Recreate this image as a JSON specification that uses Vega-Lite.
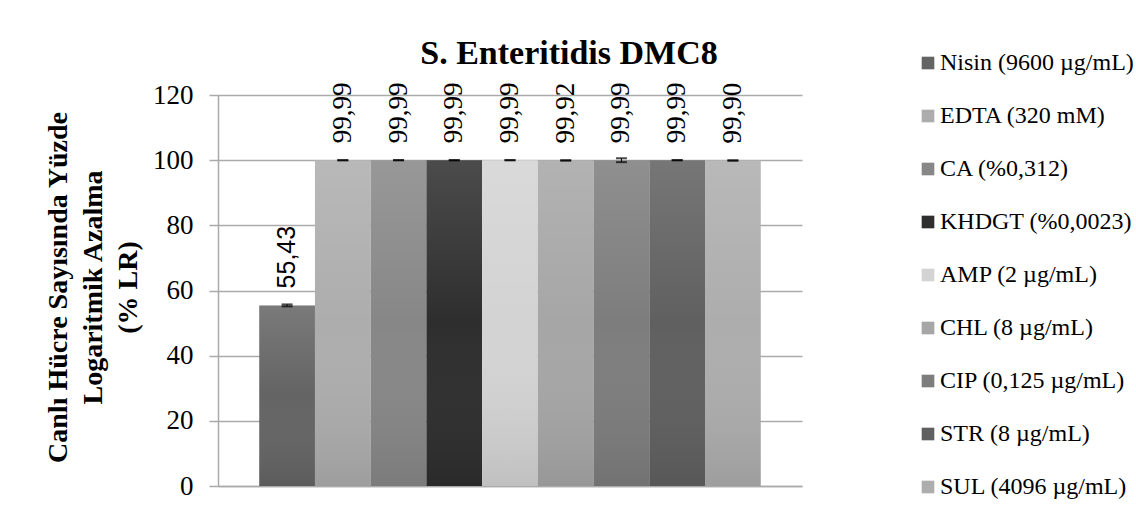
{
  "$schema": "https://vega.github.io/schema/vega-lite/v6.json",
  "autosize": "none",
  "padding": {"left": 218, "top": 95, "right": 334, "bottom": 29},
  "width": 584,
  "height": 391,
  "background": "white",
  "title": {
    "text": "S. Enteritidis DMC8",
    "font": "Liberation Serif",
    "fontSize": 34,
    "fontWeight": "bold",
    "color": "black",
    "anchor": "middle",
    "frame": "group",
    "dx": 59,
    "offset": -20
  },
  "data": {
    "values": [
      {"drug": "Nisin (9600 µg/mL)", "value": 55.43, "err": 0.3},
      {"drug": "EDTA (320 mM)", "value": 99.99, "err": 0.01},
      {"drug": "CA (%0,312)", "value": 99.99, "err": 0.01},
      {"drug": "KHDGT (%0,0023)", "value": 99.99, "err": 0.01},
      {"drug": "AMP (2 µg/mL)", "value": 99.99, "err": 0.01},
      {"drug": "CHL (8 µg/mL)", "value": 99.92, "err": 0.05},
      {"drug": "CIP (0,125 µg/mL)", "value": 99.99, "err": 0.6},
      {"drug": "STR (8 µg/mL)", "value": 99.99, "err": 0.01},
      {"drug": "SUL (4096 µg/mL)", "value": 99.9, "err": 0.05}
    ]
  },
  "encoding": {
    "x": {
      "field": "drug",
      "type": "nominal",
      "sort": null,
      "scale": {"paddingInner": 0, "paddingOuter": 0.74},
      "axis": {"labels": false, "ticks": false, "title": null, "domainColor": "#aaaaaa", "domainWidth": 1.5}
    },
    "y": {
      "field": "value",
      "type": "quantitative",
      "scale": {"domain": [0, 120], "nice": false},
      "axis": {
        "values": [0, 20, 40, 60, 80, 100, 120],
        "title": ["Canlı Hücre Sayısında Yüzde", "Logaritmik Azalma", "(% LR)"],
        "titleFont": "Liberation Serif",
        "titleFontSize": 28,
        "titleFontWeight": "bold",
        "titleColor": "black",
        "titleLineHeight": 35,
        "titleAngle": -90,
        "titleAlign": "center",
        "titleBaseline": "middle",
        "titleX": -160,
        "titleY": 192,
        "labelFont": "Liberation Serif",
        "labelFontSize": 27,
        "labelColor": "black",
        "labelPadding": 16,
        "tickSize": 9,
        "tickColor": "#aaaaaa",
        "tickWidth": 1.5,
        "domainColor": "#aaaaaa",
        "domainWidth": 1.5,
        "gridColor": "#aaaaaa",
        "gridWidth": 1.5
      }
    }
  },
  "layer": [
    {
      "mark": {"type": "bar"},
      "encoding": {
        "color": {
          "field": "drug",
          "type": "nominal",
          "scale": {
            "domain": ["Nisin (9600 µg/mL)", "EDTA (320 mM)", "CA (%0,312)", "KHDGT (%0,0023)", "AMP (2 µg/mL)", "CHL (8 µg/mL)", "CIP (0,125 µg/mL)", "STR (8 µg/mL)", "SUL (4096 µg/mL)"],
            "range": ["#646464", "#adadad", "#878787", "#2e2e2e", "#d3d3d3", "#a6a6a6", "#7d7d7d", "#606060", "#adadad"]
          },
          "legend": {
            "title": null,
            "orient": "none",
            "legendX": 698,
            "legendY": -44,
            "symbolType": "square",
            "symbolSize": 160,
            "symbolStrokeWidth": 0,
            "labelFont": "Liberation Serif",
            "labelFontSize": 24,
            "labelColor": "black",
            "labelOffset": 0,
            "labelLimit": 400,
            "rowPadding": 29,
            "padding": 0
          }
        }
      }
    },
    {
      "mark": {
        "type": "bar",
        "color": {
          "gradient": "linear",
          "x1": 0, "y1": 0, "x2": 0, "y2": 1,
          "stops": [
            {"offset": 0, "color": "rgba(255,255,255,0.14)"},
            {"offset": 0.5, "color": "rgba(255,255,255,0)"},
            {"offset": 1, "color": "rgba(0,0,0,0.09)"}
          ]
        }
      },
      "encoding": {}
    },
    {
      "mark": {
        "type": "errorbar",
        "ticks": {"size": 11, "thickness": 2, "color": "black"},
        "rule": {"color": "black", "strokeWidth": 1}
      },
      "encoding": {
        "y": {"field": "value", "type": "quantitative"},
        "yError": {"field": "err"}
      }
    },
    {
      "transform": [{"filter": "datum.drug !== 'Nisin (9600 µg/mL)'"}],
      "mark": {
        "type": "text",
        "angle": -90,
        "align": "left",
        "baseline": "middle",
        "dx": 17,
        "font": "Liberation Serif",
        "fontSize": 27,
        "color": "black"
      },
      "encoding": {
        "text": {"field": "value", "type": "quantitative", "format": ".2f"}
      }
    },
    {
      "transform": [{"filter": "datum.drug === 'Nisin (9600 µg/mL)'"}],
      "mark": {
        "type": "text",
        "angle": -90,
        "align": "left",
        "baseline": "middle",
        "dx": 17,
        "font": "Liberation Sans",
        "fontSize": 25,
        "color": "black"
      },
      "encoding": {
        "text": {"field": "value", "type": "quantitative", "format": ".2f"}
      }
    }
  ],
  "config": {
    "locale": {
      "number": {"decimal": ",", "thousands": ".", "grouping": [3], "currency": ["", ""]}
    },
    "view": {"stroke": null}
  }
}
